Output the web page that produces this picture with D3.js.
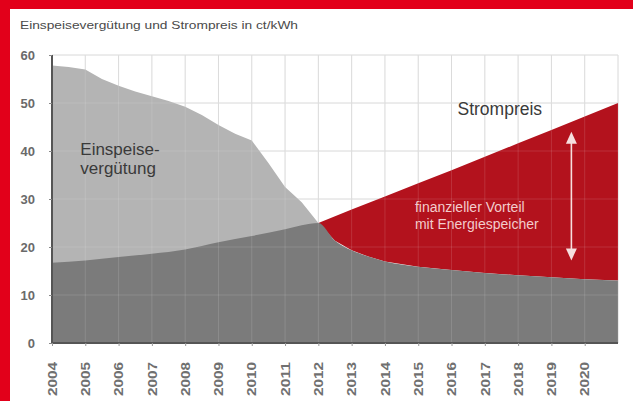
<!DOCTYPE html>
<html>
<head>
<meta charset="utf-8">
<script src="https://cdn.jsdelivr.net/npm/d3@7"></script>
<style>
  body { margin: 0; background: #fff; }
  svg { display: block; font-family: "Liberation Sans", Arial, sans-serif; }
</style>
</head>
<body>
<svg id="chart" width="633" height="401"></svg>
<script>
// Einspeiseverguetung (feed-in tariff), ct/kWh
var feedYears  = [2004, 2004.5, 2005, 2005.5, 2006, 2006.5, 2007, 2007.5, 2008, 2008.5, 2009, 2009.5,
                  2010, 2010.5, 2011, 2011.5, 2012, 2012.5, 2013, 2013.5, 2014, 2015, 2016, 2017,
                  2018, 2019, 2020, 2021];
var feedValues = [57.8, 57.5, 57, 55, 53.6, 52.4, 51.4, 50.4, 49.2, 47.5, 45.4, 43.6,
                  42.2, 37.5, 32.5, 29.3, 25, 21.3, 19.3, 18, 17, 15.9, 15.2, 14.6,
                  14.1, 13.7, 13.3, 13];

// Strompreis (electricity price), ct/kWh
var priceYears  = [2004, 2005, 2006, 2007, 2008, 2009, 2010, 2011, 2012, 2013, 2014, 2015,
                   2016, 2017, 2018, 2019, 2020, 2021];
var priceValues = [16.7, 17.2, 17.9, 18.6, 19.5, 21, 22.3, 23.7, 25, 27.8, 30.5, 33.3,
                   36, 38.8, 41.6, 44.4, 47.2, 50];

var yearTicks = d3.range(2004, 2021);      // 2004 .. 2020 labels
var valueTicks = [0, 10, 20, 30, 40, 50, 60];
var crossYear = 2012;

var margin = {top: 55, right: 15, bottom: 58, left: 52},
    width = 633 - margin.left - margin.right,
    height = 401 - margin.top - margin.bottom;

var svg = d3.select("#chart");

// red frame pieces
svg.append("rect").attr("x", 0).attr("y", 0).attr("width", 633).attr("height", 9).attr("fill", "#e2001a");
svg.append("rect").attr("x", 0).attr("y", 0).attr("width", 10).attr("height", 401).attr("fill", "#e2001a");

svg.append("text")
  .attr("x", 20).attr("y", 29)
  .attr("font-size", 11)
  .attr("fill", "#4a4a4a")
  .attr("textLength", 278)
  .attr("lengthAdjust", "spacingAndGlyphs")
  .text("Einspeisevergütung und Strompreis in ct/kWh");

var x = d3.scaleLinear().domain([2004, 2021]).range([0, width]);
var y = d3.scaleLinear().domain([0, 60]).range([height, 0]);

var g = svg.append("g")
  .attr("transform", "translate(" + margin.left + "," + margin.top + ")");

var feed = feedYears.map(function (d, i) { return {x: d, v: feedValues[i]}; });
var price = priceYears.map(function (d, i) { return {x: d, v: priceValues[i]}; });

// grid under the areas
function drawGrid(color, op) {
  var grid = g.append("g").attr("stroke", color).attr("stroke-opacity", op).attr("stroke-width", 1);
  grid.selectAll(".h").data(valueTicks.slice(1)).enter().append("line")
    .attr("x1", 0).attr("x2", width)
    .attr("y1", function (d) { return y(d); }).attr("y2", function (d) { return y(d); });
  grid.selectAll(".v").data(d3.range(2005, 2022)).enter().append("line")
    .attr("y1", y(60)).attr("y2", height)
    .attr("x1", function (d) { return x(d); }).attr("x2", function (d) { return x(d); });
}
drawGrid("#d6d6d6", 1);

var area = d3.area()
  .x(function (d) { return x(d.x); })
  .y0(height)
  .y1(function (d) { return y(d.v); });

// light grey: feed-in tariff until the crossing
g.append("path")
  .datum(feed.filter(function (d) { return d.x <= crossYear; }))
  .attr("fill", "#b4b4b4")
  .attr("d", area);

// red: price above feed-in after the crossing
var upper = price.filter(function (d) { return d.x >= crossYear; });
var lower = feed.filter(function (d) { return d.x >= crossYear; }).reverse();
var lineGen = d3.line()
  .x(function (d) { return x(d.x); })
  .y(function (d) { return y(d.v); });
g.append("path")
  .attr("fill", "#b3121d")
  .attr("d", lineGen(upper.concat(lower)) + "Z");

// dark grey: the lower of both curves
var lowerEnvelope = price.filter(function (d) { return d.x < crossYear; })
  .concat(feed.filter(function (d) { return d.x >= crossYear; }));
g.append("path")
  .datum(lowerEnvelope)
  .attr("fill", "#7b7b7b")
  .attr("d", area.curve(d3.curveMonotoneX));

// faint grid showing through the areas
drawGrid("#ffffff", 0.13);

// axes
var yAxis = d3.axisLeft(y).tickValues(valueTicks).tickSize(3).tickPadding(14);
var yg = g.append("g").call(yAxis);
yg.select(".domain").attr("stroke", "#555").attr("stroke-width", 2).attr("d", "M0," + y(60) + "V" + height);
yg.selectAll(".tick line").attr("stroke", "#888");
yg.selectAll(".tick text")
  .attr("font-size", 13).attr("font-weight", "bold").attr("fill", "#6a6a6a")
  .attr("font-family", "Liberation Sans, Arial, sans-serif");

var xAxis = d3.axisBottom(x).tickValues(yearTicks).tickSize(3).tickFormat(d3.format("d"));
var xg = g.append("g").attr("transform", "translate(0," + height + ")").call(xAxis);
xg.select(".domain").attr("stroke", "#555").attr("stroke-width", 2).attr("d", "M0,0H" + width);
xg.selectAll(".tick line").attr("stroke", "#999");
xg.selectAll(".tick text")
  .attr("font-size", 12).attr("font-weight", "bold").attr("fill", "#707070")
  .attr("font-family", "Liberation Sans, Arial, sans-serif")
  .attr("transform", "rotate(-90)")
  .attr("text-anchor", "end")
  .attr("x", -19).attr("y", 0).attr("dy", "0.35em")
  .attr("textLength", 34).attr("lengthAdjust", "spacingAndGlyphs");

// labels
g.append("text")
  .attr("x", x(2004.85)).attr("y", y(39.2))
  .attr("font-size", 17).attr("fill", "#3a3a3a")
  .text("Einspeise-");
g.append("text")
  .attr("x", x(2004.85)).attr("y", y(35.3))
  .attr("font-size", 17).attr("fill", "#3a3a3a")
  .text("vergütung");

g.append("text")
  .attr("x", x(2017.45)).attr("y", y(47.5))
  .attr("text-anchor", "middle")
  .attr("font-size", 17.5).attr("fill", "#3a3a3a")
  .text("Strompreis");

g.append("text")
  .attr("x", x(2014.9)).attr("y", y(27.3))
  .attr("font-size", 14).attr("fill", "#f2cccc")
  .text("finanzieller Vorteil");
g.append("text")
  .attr("x", x(2014.9)).attr("y", y(23.8))
  .attr("font-size", 14).attr("fill", "#f2cccc")
  .text("mit Energiespeicher");

// double arrow
var ax = x(2019.6), aTop = y(44), aBot = y(17.2);
g.append("line")
  .attr("x1", ax).attr("x2", ax).attr("y1", aTop + 8).attr("y2", aBot - 8)
  .attr("stroke", "#f6dede").attr("stroke-width", 1.6);
g.append("path")
  .attr("fill", "#f6dede")
  .attr("d", "M" + ax + "," + aTop + "L" + (ax - 5.5) + "," + (aTop + 12) + "L" + (ax + 5.5) + "," + (aTop + 12) + "Z");
g.append("path")
  .attr("fill", "#f6dede")
  .attr("d", "M" + ax + "," + aBot + "L" + (ax - 5.5) + "," + (aBot - 12) + "L" + (ax + 5.5) + "," + (aBot - 12) + "Z");
</script>
</body>
</html>
